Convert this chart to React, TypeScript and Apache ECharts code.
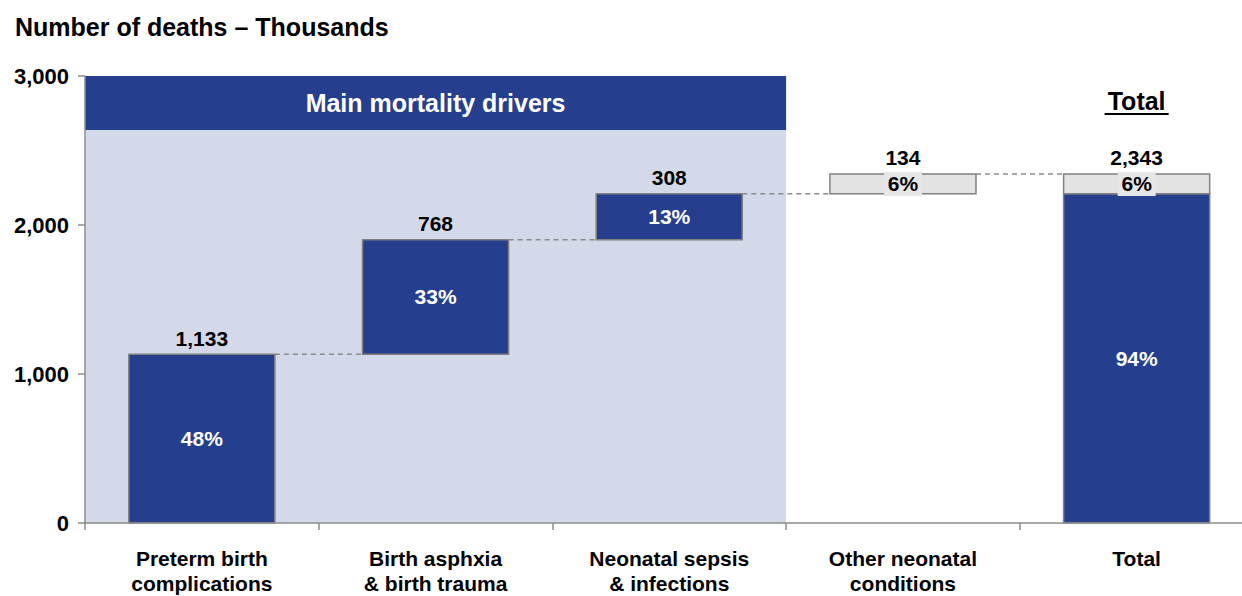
import React, { useEffect, useRef } from "react";
import * as echarts from "echarts";

const categories = [
  "Preterm birth\ncomplications",
  "Birth asphxia\n& birth trauma",
  "Neonatal sepsis\n& infections",
  "Other neonatal\nconditions",
  "Total",
];
const driverValues = [1133, 768, 308, 134];
const driverShares = ["48%", "33%", "13%", "6%"];
const driverKinds = ["main", "main", "main", "other"];
const totalSplit = [2209, 134];
const totalShares = ["94%", "6%"];
const topLabels = ["1,133", "768", "308", "134", "2,343"];
const yTicks = [0, 1000, 2000, 3000];

const DARK = "#253F8E";
const GREY = "#E3E3E3";
const LAVENDER = "#D4D9E9";
const FONT = '"Liberation Sans", Arial, sans-serif';

type Seg = { cat: number; start: number; end: number; kind: string; share: string; top: string; connect: boolean };

function buildSegments(): Seg[] {
  const segs: Seg[] = [];
  let cum = 0;
  driverValues.forEach((v, i) => {
    segs.push({ cat: i, start: cum, end: cum + v, kind: driverKinds[i], share: driverShares[i], top: topLabels[i], connect: true });
    cum += v;
  });
  let c2 = 0;
  totalSplit.forEach((v, i) => {
    segs.push({
      cat: 4,
      start: c2,
      end: c2 + v,
      kind: i === 0 ? "main" : "other",
      share: totalShares[i],
      top: i === totalSplit.length - 1 ? topLabels[4] : "",
      connect: false,
    });
    c2 += v;
  });
  return segs;
}

export default function App() {
  const ref = useRef<HTMLDivElement>(null);
  useEffect(() => {
    if (!ref.current) return;
    const chart = echarts.init(ref.current, undefined, { renderer: "svg" });
    const segs = buildSegments();
    const yMax = yTicks[yTicks.length - 1];
    const option: any = {
      animation: false,
      title: {
        text: "Number of deaths \u2013 Thousands",
        left: 15,
        top: 14,
        padding: 0,
        textStyle: { fontFamily: FONT, fontWeight: "bold", fontSize: 25, color: "#000" },
      },
      grid: { left: 85, right: 2.5, top: 76, bottom: 68 },
      xAxis: {
        type: "category",
        data: categories,
        z: 10,
        axisLine: { lineStyle: { color: "#8c8c8c", width: 1.5 } },
        axisTick: { show: true, length: 7, lineStyle: { color: "#8c8c8c", width: 1.5 } },
        axisLabel: {
          interval: 0,
          margin: 23,
          fontFamily: FONT,
          fontWeight: "bold",
          fontSize: 21,
          lineHeight: 25,
          color: "#000",
        },
      },
      yAxis: {
        type: "value",
        min: 0,
        max: yMax,
        interval: 1000,
        z: 10,
        splitLine: { show: false },
        axisLine: { show: true, lineStyle: { color: "#8c8c8c", width: 1.5 } },
        axisTick: { show: true, length: 7, lineStyle: { color: "#8c8c8c", width: 1.5 } },
        axisLabel: {
          margin: 16,
          fontFamily: FONT,
          fontWeight: "bold",
          fontSize: 22,
          color: "#000",
          formatter: (v: number) => v.toLocaleString("en-US"),
        },
      },
      series: [
        {
          type: "custom",
          z: 1,
          silent: true,
          data: [[0, 0, yMax]],
          encode: { x: 0, y: [1, 2] },
          renderItem: (params: any, api: any) => {
            const band = api.size([1, 0])[0];
            const pTop0 = api.coord([0, yMax]);
            const pBot0 = api.coord([0, 0]);
            const left = pTop0[0] - band / 2;
            const right = api.coord([2, yMax])[0] + band / 2;
            const totX = api.coord([4, yMax])[0];
            const top = pTop0[1];
            const bottom = pBot0[1];
            return {
              type: "group",
              children: [
                { type: "rect", shape: { x: left, y: top, width: right - left, height: bottom - top }, style: { fill: LAVENDER } },
                { type: "rect", shape: { x: left, y: top, width: right - left, height: 54 }, style: { fill: DARK } },
                {
                  type: "text",
                  style: {
                    text: "Main mortality drivers",
                    x: (left + right) / 2,
                    y: top + 27,
                    align: "center",
                    verticalAlign: "middle",
                    fill: "#fff",
                    font: `bold 25px ${FONT}`,
                  },
                },
                {
                  type: "text",
                  style: {
                    text: "Total",
                    x: totX,
                    y: top + 25,
                    align: "center",
                    verticalAlign: "middle",
                    fill: "#000",
                    font: `bold 25px ${FONT}`,
                  },
                },
                {
                  type: "line",
                  shape: { x1: totX - 32, y1: top + 38, x2: totX + 32, y2: top + 38 },
                  style: { stroke: "#000", lineWidth: 2 },
                },
              ],
            };
          },
        },
        {
          type: "custom",
          z: 3,
          silent: true,
          data: segs.map((s) => [s.cat, s.start, s.end]),
          encode: { x: 0, y: [1, 2] },
          renderItem: (params: any, api: any) => {
            const seg = segs[params.dataIndex];
            const cat = api.value(0);
            const pTop = api.coord([cat, api.value(2)]);
            const pBot = api.coord([cat, api.value(1)]);
            const band = api.size([1, 0])[0];
            const w = band * 0.625;
            const cx = pTop[0];
            const isMain = seg.kind === "main";
            const midY = (pTop[1] + pBot[1]) / 2;
            const children: any[] = [
              {
                type: "rect",
                shape: { x: cx - w / 2, y: pTop[1], width: w, height: pBot[1] - pTop[1] },
                style: { fill: isMain ? DARK : GREY, stroke: "#808080", lineWidth: 1.5 },
              },
            ];
            if (!isMain) {
              children.push({
                type: "rect",
                shape: { x: cx - 19, y: midY - 12, width: 38, height: 24 },
                style: { fill: "#E6E6E6" },
              });
            }
            children.push({
              type: "text",
              style: {
                text: seg.share,
                x: cx,
                y: midY,
                align: "center",
                verticalAlign: "middle",
                fill: isMain ? "#fff" : "#000",
                font: `bold 21px ${FONT}`,
              },
            });
            if (seg.top) {
              children.push({
                type: "text",
                style: {
                  text: seg.top,
                  x: cx,
                  y: pTop[1] - 16,
                  align: "center",
                  verticalAlign: "middle",
                  fill: "#000",
                  font: `bold 21px ${FONT}`,
                },
              });
            }
            if (seg.connect) {
              children.push({
                type: "line",
                shape: { x1: cx + w / 2, y1: pTop[1], x2: cx + band - w / 2, y2: pTop[1] },
                style: { stroke: "#8c8c8c", lineWidth: 1.5, lineDash: [5, 4] },
              });
            }
            return { type: "group", children };
          },
        },
      ],
    };
    chart.setOption(option);
    return () => chart.dispose();
  }, []);
  return (
    <div style={{ position: "absolute", left: 0, top: 0, width: 1242, height: 596, overflow: "hidden", background: "#fff" }}>
      <div ref={ref} style={{ width: 1256, height: 596 }} />
    </div>
  );
}
